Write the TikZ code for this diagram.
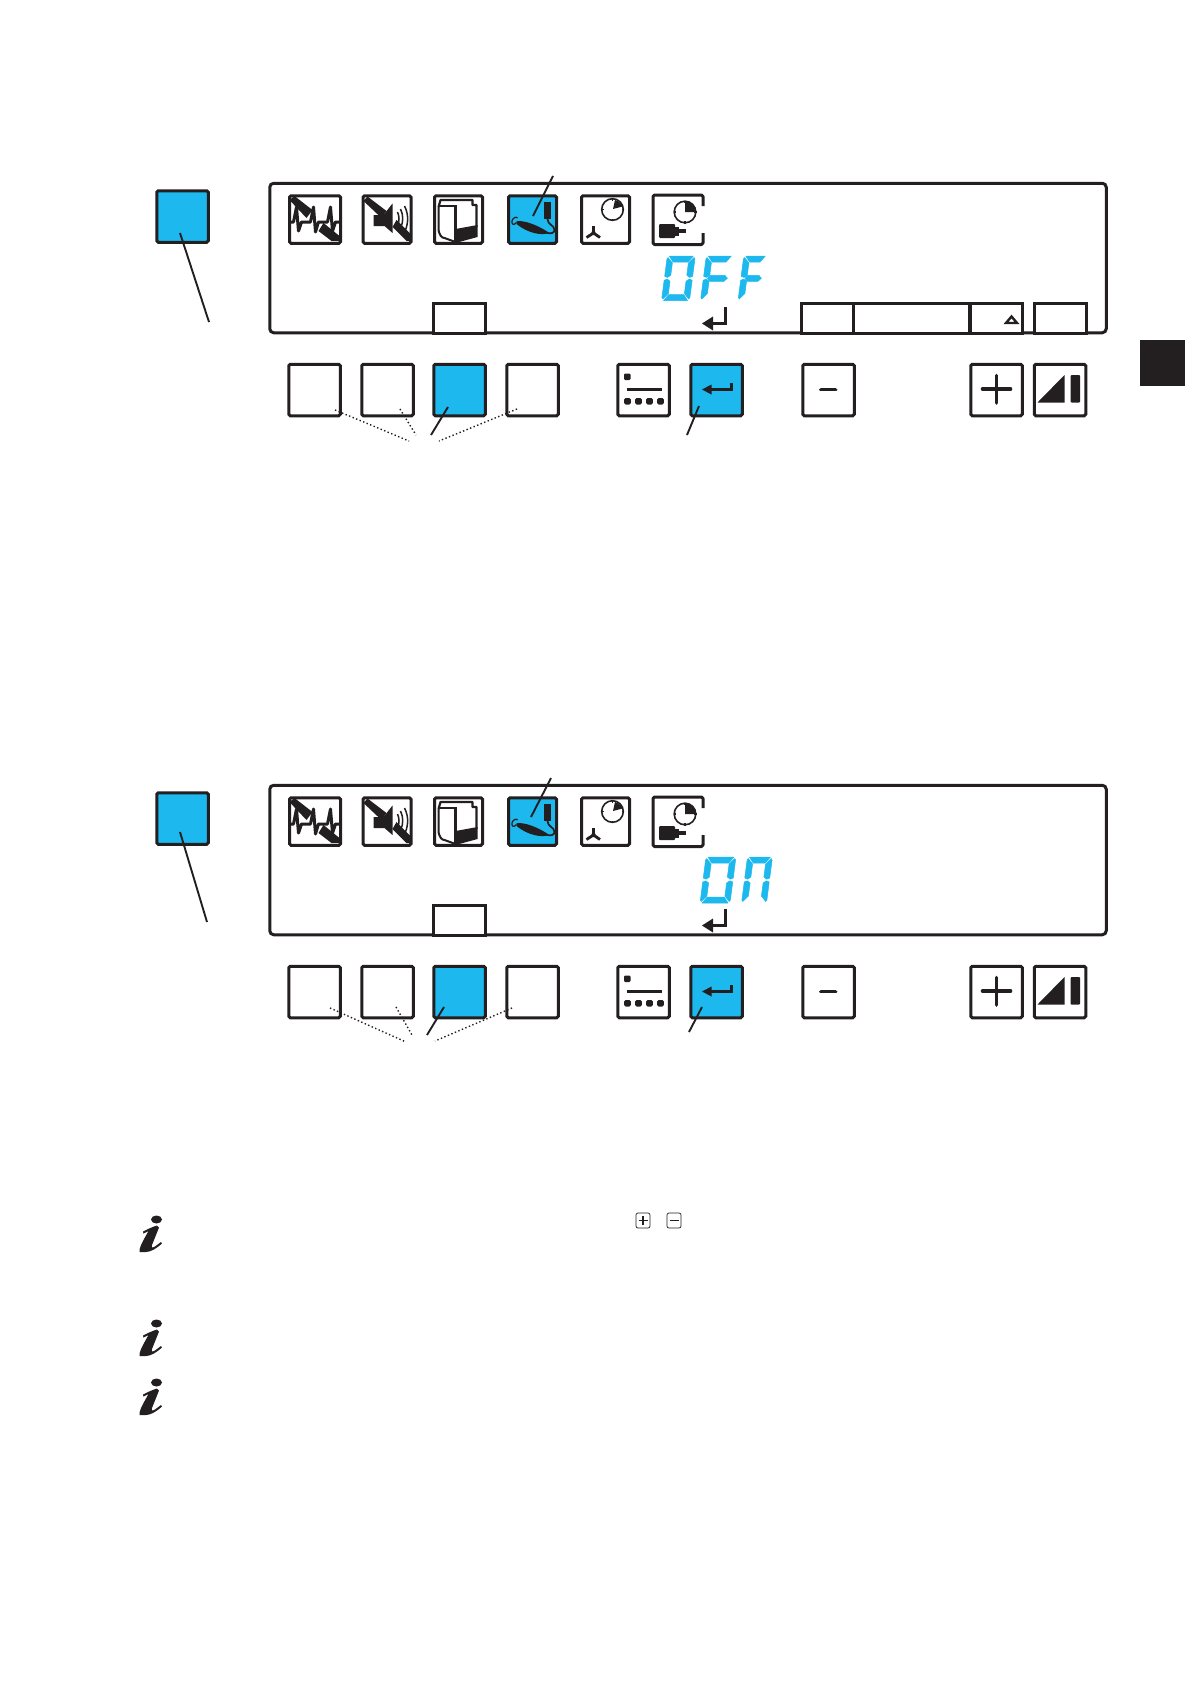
\documentclass[tikz,border=0pt]{standalone}
\definecolor{ink}{HTML}{231F20}
\definecolor{lcdblue}{HTML}{1DB8EE}
\tikzset{
  keybox/.style={draw=ink,line width=3pt,fill=white,rounded corners=1.5pt,minimum width=51.5pt,minimum height=51.5pt,inner sep=0pt},
  iconbox/.style={keybox,minimum width=48pt,minimum height=47.5pt},
  bluebox/.style={fill=lcdblue},
  tabbox/.style={draw=ink,line width=2.5pt,fill=white},
  leader/.style={draw=ink,line width=1.9pt},
  dotted leader/.style={draw=ink,line width=1.4pt,dash pattern=on 1.4pt off 2.4pt},
  seg/.style={fill=lcdblue,draw=lcdblue,line width=0.5pt,line join=round},
  solid ink/.style={fill=ink,draw=none},
  strokeink/.style={draw=ink,line join=round}
}
\newcommand{\segT}{\fill[seg] (2,-\dh) -- ({\dw-2},-\dh) -- ({\dw-6.5},{-\dh+6}) -- (6.5,{-\dh+6}) -- cycle;}
\newcommand{\segB}{\fill[seg] (2,0) -- ({\dw-2},0) -- ({\dw-6.5},-6) -- (6.5,-6) -- cycle;}
\newcommand{\segM}{\fill[seg] (4,{-\dh/2}) -- (6.5,{-\dh/2-3}) -- ({\dw-6},{-\dh/2-3}) -- ({\dw-3},{-\dh/2}) -- ({\dw-6},{-\dh/2+3}) -- (6.5,{-\dh/2+3}) -- cycle;}
\newcommand{\segUL}{\fill[seg] (0,{-\dh+3}) -- (1,{-\dh+1.5}) -- (6,{-\dh+7}) -- (6,{-\dh/2-3}) -- (3,{-\dh/2-0.8}) -- (0,{-\dh/2-2}) -- cycle;}
\newcommand{\segLL}{\fill[seg] (0,-3) -- (1,-1.5) -- (6,-7) -- (6,{-\dh/2+3}) -- (3,{-\dh/2+0.8}) -- (0,{-\dh/2+2}) -- cycle;}
\newcommand{\segUR}{\fill[seg] (\dw,{-\dh+3}) -- ({\dw-1},{-\dh+1.5}) -- ({\dw-6},{-\dh+7}) -- ({\dw-6},{-\dh/2-3}) -- ({\dw-3},{-\dh/2-0.8}) -- (\dw,{-\dh/2-2}) -- cycle;}
\newcommand{\segLR}{\fill[seg] (\dw,-3) -- ({\dw-1},-1.5) -- ({\dw-6},-7) -- ({\dw-6},{-\dh/2+3}) -- ({\dw-3},{-\dh/2+0.8}) -- (\dw,{-\dh/2+2}) -- cycle;}
\newcommand{\lcddigit}[5]{\begin{scope}[shift={(#1,#2)},xslant=0.13]\def\dw{#3}\def\dh{#4}#5\end{scope}}
\newcommand{\iconat}[3]{\begin{scope}[shift={(#1,#2)}]#3\end{scope}}
\newcommand{\drawecg}{%
  \fill[solid ink] (1,5) -- (6,1) -- (24,15) -- (18,23) -- cycle;
  \fill[solid ink] (30,36) -- (35,28) -- (51,41) -- (51,46) -- (43,46) -- cycle;
  \draw[strokeink,line width=3pt] (1,27) -- (5,27) -- (8,12) -- (10,36) -- (13,27) -- (22,27) -- (25,12) -- (27,37) -- (30,27) -- (39,27) -- (42,12) -- (44,36) -- (47,27) -- (53,27);
}
\newcommand{\drawspeaker}{%
  \fill[solid ink] (2,6) -- (6,1.5) -- (25,16) -- (20,23) -- cycle;
  \fill[solid ink] (31,32) -- (35,25) -- (49,39) -- (49,46) -- (45,46) -- cycle;
  \fill[solid ink] (12,20) -- (22,20) -- (31,8.5) -- (31,38) -- (23,31) -- (12,31) -- cycle;
  \draw[strokeink,line width=1.5pt] (36,17) .. controls (38,21) and (38,27) .. (36,31);
  \draw[strokeink,line width=1.5pt] (39,14) .. controls (42,20) and (42,27) .. (39,33);
  \draw[strokeink,line width=1.5pt] (43,11) .. controls (47,19) and (47,27) .. (44,35);
}
\newcommand{\drawcabinet}{%
  \draw[strokeink,line width=2.2pt] (5,12) -- (7,5) -- (39,5) -- (39,10) -- (43,10) -- (43,32);
  \draw[strokeink,line width=2pt] (5,12) -- (5,35) .. controls (6,40) and (8,43) .. (11,43) -- (22,47);
  \draw[strokeink,line width=2.2pt] (22,10) -- (22,47);
  \draw[strokeink,line width=1.7pt] (5,11) -- (22,11);
  \fill[solid ink] (22,34) -- (44,30) -- (44,42) -- (22,48) -- cycle;
}
\newcommand{\drawhandpiece}{%
  \fill[solid ink] (36,7) rectangle (43,24);
  \fill[solid ink] (9,26) .. controls (18,25.5) and (30,30) .. (42,38) .. controls (34,41) and (20,38) .. (9,29) -- cycle;
  \draw[strokeink,line width=1.2pt] (9,27.5) .. controls (6,31) and (4,29) .. (4.5,26) .. controls (5,23) and (9,21) .. (10,23);
  \draw[strokeink,line width=1.7pt] (40,24) .. controls (40,30) and (47,30) .. (47,35) .. controls (47,38) and (43,39) .. (40,38);
}
\newcommand{\drawclock}[1]{%
  \draw[strokeink,line width=1.6pt,fill=white] (0,0) circle[radius=10.8];
  \fill[solid ink] #1;
  \draw[strokeink,line width=1.4pt] (0,-11.5) -- (0,-9) (0,11.5) -- (0,9) (-11.5,0) -- (-9,0) (11.5,0) -- (9,0);
}
\newcommand{\drawfanclock}{%
  \begin{scope}[shift={(32,14.5)}]
    \drawclock{(0.5,-0.5) -- (2.5,-9.5) .. controls (6,-8.5) and (9,-6) .. (10,-3) -- cycle}
  \end{scope}
  \fill[solid ink] (13,38) circle[radius=2.2];
  \draw[strokeink,line width=2.8pt] (13,38) -- (13,31) (13,38) -- (6,42.5) (13,38) -- (19.5,42.5);
}
\newcommand{\drawmotorclock}{%
  \begin{scope}[shift={(32,17)}]
    \drawclock{(0,0) -- (0,-10.8) .. controls (6,-10.8) and (10.8,-6) .. (10.8,0) -- cycle}
  \end{scope}
  \fill[solid ink,rounded corners=1pt] (6,29) rectangle (22,43);
  \fill[solid ink] (22,31.5) rectangle (26,40.5);
  \fill[solid ink] (26,34) rectangle (33,37.5);
}
\newcommand{\infomark}[1]{%
  \begin{scope}[shift={(-1,#1)}]
    \fill[ink] (157.5,1219.5) ellipse[x radius=5.5,y radius=4];
    \fill[ink] (144,1231.5) .. controls (149,1229) and (153,1227) .. (158,1225.5) -- (160,1227.5)
      -- (153,1245) .. controls (152,1248.5) and (154,1248) .. (156,1246.5) -- (162,1242) -- (163,1243.5)
      .. controls (158,1248) and (152,1252) .. (147,1252) -- (140.5,1252) .. controls (140,1249) and (141.5,1245) .. (149.5,1231) .. controls (147,1232) and (146,1233) .. (144.5,1233.5) -- cycle;
  \end{scope}
}
\newcommand{\panelbody}[1]{%
  \node[draw=ink,line width=3pt,rounded corners=4pt,minimum width=836.5pt,minimum height=149.5pt,inner sep=0pt] (lcd#1) at (688,258) {};
  \node[tabbox,minimum width=52pt,minimum height=30pt] (tabA#1) at (459.5,318.5) {};
  \node[iconbox,minimum width=51pt] (ia#1) at (315,219.5) {};
  \node[iconbox] (ib#1) at (387,219.5) {};
  \node[iconbox] (ic#1) at (458.5,219.5) {};
  \node[iconbox,bluebox] (id#1) at (532.5,219.5) {};
  \node[iconbox] (ie#1) at (605.5,219.5) {};
  \iconat{288.5}{195}{\drawecg}
  \iconat{361.5}{195}{\drawspeaker}
  \iconat{433.5}{195}{\drawcabinet}
  \iconat{507.5}{195}{\drawhandpiece}
  \iconat{580.5}{195}{\drawfanclock}
  \draw[strokeink,line width=3pt,rounded corners=1.5pt] (703,206) -- (703,195) -- (653,195) -- (653,244.5) -- (703,244.5) -- (703,233);
  \iconat{653}{195}{\drawmotorclock}
  \draw[strokeink,line width=3.6pt,line join=miter] (725.5,307) -- (725.5,323.5) -- (712,323.5);
  \fill[solid ink] (702,323.5) -- (713,316.5) -- (713,330.5) -- cycle;
  \node[keybox] (ka#1) at (314.5,390) {};
  \node[keybox] (kb#1) at (387.5,390) {};
  \node[keybox,bluebox] (kc#1) at (459.5,390) {};
  \node[keybox] (kd#1) at (532.5,390) {};
  \node[keybox] (ke#1) at (643.5,390) {};
  \node[keybox,bluebox] (kf#1) at (716.5,390) {};
  \node[keybox] (kg#1) at (828.5,390) {};
  \node[keybox] (kh#1) at (996.5,390) {};
  \node[keybox] (ki#1) at (1060,390) {};
  \iconat{616.5}{363}{%
    \fill[solid ink,rounded corners=1.2pt] (7.5,10.5) rectangle (14,17);
    \draw[strokeink,line width=3pt] (10,26) -- (45,26);
    \foreach \q in {11,22,33,44} {\fill[solid ink,rounded corners=1.5pt] (\q-3.3,35) rectangle (\q+3.3,41.5);}
  }
  \iconat{689.5}{363}{%
    \draw[strokeink,line width=3.4pt,line join=miter] (42,20) -- (42,26.5) -- (20,26.5);
    \fill[solid ink] (12.5,26.5) -- (22,21.5) -- (22,31.5) -- cycle;
  }
  \iconat{801.5}{363}{\draw[strokeink,line width=3.8pt,line cap=round] (19.5,26.5) -- (34,26.5);}
  \iconat{969.5}{363}{\draw[strokeink,line width=3.6pt,line cap=round] (13,26) -- (41,26) (27,12.5) -- (27,40);}
  \iconat{1033}{363}{%
    \fill[solid ink] (4.5,39.5) -- (31.5,39.5) -- (31.5,12) -- cycle;
    \fill[solid ink,rounded corners=1pt] (37.5,12) rectangle (47,39.5);
  }
  \node[keybox,bluebox] (side#1) at (182.5,216.5) {};
}
\begin{document}
\begin{tikzpicture}[x=1pt,y=-1pt]
\useasboundingbox (0,0) rectangle (1190,1684);
\panelbody{P}
\node[tabbox,minimum width=52pt,minimum height=30pt] (tabB) at (827.5,318.5) {};
\node[tabbox,minimum width=116pt,minimum height=30pt] (tabC) at (911.5,318.5) {};
\node[tabbox,minimum width=52pt,minimum height=30pt] (tabD) at (996.5,318.5) {};
\node[tabbox,minimum width=52pt,minimum height=30pt] (tabE) at (1060.5,318.5) {};
\draw[strokeink,line width=2.4pt,line join=miter,fill=white] (1011.5,316.5) -- (1017,323) -- (1006,323) -- cycle;
\lcddigit{661.5}{300.5}{28}{44.5}{\segT\segB\segUL\segUR\segLL\segLR}
\lcddigit{700.5}{300.5}{27}{44.5}{\segT\segM\segUL\segLL}
\lcddigit{738}{300.5}{23.5}{44.5}{\segT\segM\segUL\segLL}
\coordinate (a1) at (553,176); \coordinate (a2) at (533,216);
\coordinate (b1) at (180,233); \coordinate (b2) at (209,322);
\coordinate (c1) at (448,407); \coordinate (c2) at (431,435);
\coordinate (d1) at (699,406); \coordinate (d2) at (687,435);
\coordinate (e1) at (335,410); \coordinate (e2) at (409,441);
\coordinate (f1) at (400,409); \coordinate (f2) at (416,435);
\coordinate (g1) at (517,409); \coordinate (g2) at (439,441);
\draw[leader] (a1) -- (a2);
\draw[leader] (b1) -- (b2);
\draw[leader] (c1) -- (c2);
\draw[leader] (d1) -- (d2);
\draw[dotted leader] (e1) -- (e2);
\draw[dotted leader] (f1) -- (f2);
\draw[dotted leader] (g1) -- (g2);
\begin{scope}[shift={(0,602)}]
\panelbody{Q}
\lcddigit{700}{301}{30}{46}{\segT\segB\segUL\segUR\segLL\segLR}
\lcddigit{741.5}{301}{25}{46}{\segT\segUL\segUR\segLL\segLR}
\coordinate (h1) at (551,176); \coordinate (h2) at (531,215);
\coordinate (i1) at (180,230); \coordinate (i2) at (207,320);
\coordinate (j1) at (444,405); \coordinate (j2) at (427,433);
\coordinate (k1) at (702,405); \coordinate (k2) at (689,430);
\coordinate (l1) at (330,406); \coordinate (l2) at (406,440);
\coordinate (m1) at (396,405); \coordinate (m2) at (412,433);
\coordinate (n1) at (512,406); \coordinate (n2) at (435,439);
\draw[leader] (h1) -- (h2);
\draw[leader] (i1) -- (i2);
\draw[leader] (j1) -- (j2);
\draw[leader] (k1) -- (k2);
\draw[dotted leader] (l1) -- (l2);
\draw[dotted leader] (m1) -- (m2);
\draw[dotted leader] (n1) -- (n2);
\end{scope}
\fill[ink] (1139.5,340) rectangle (1185,386);
\infomark{0}
\infomark{104}
\infomark{163}
\node[draw=ink,line width=0.7pt,rounded corners=2pt,minimum width=14pt,minimum height=15pt,inner sep=0pt] (sp) at (643,1220.5) {};
\draw[strokeink,line width=1.4pt] (638.5,1220.5) -- (647.5,1220.5) (643,1216) -- (643,1225);
\node[draw=ink,line width=0.7pt,rounded corners=2pt,minimum width=14pt,minimum height=15pt,inner sep=0pt] (sm) at (674,1220.5) {};
\draw[strokeink,line width=1.6pt] (669.5,1220.5) -- (678.5,1220.5);
\end{tikzpicture}
\end{document}
